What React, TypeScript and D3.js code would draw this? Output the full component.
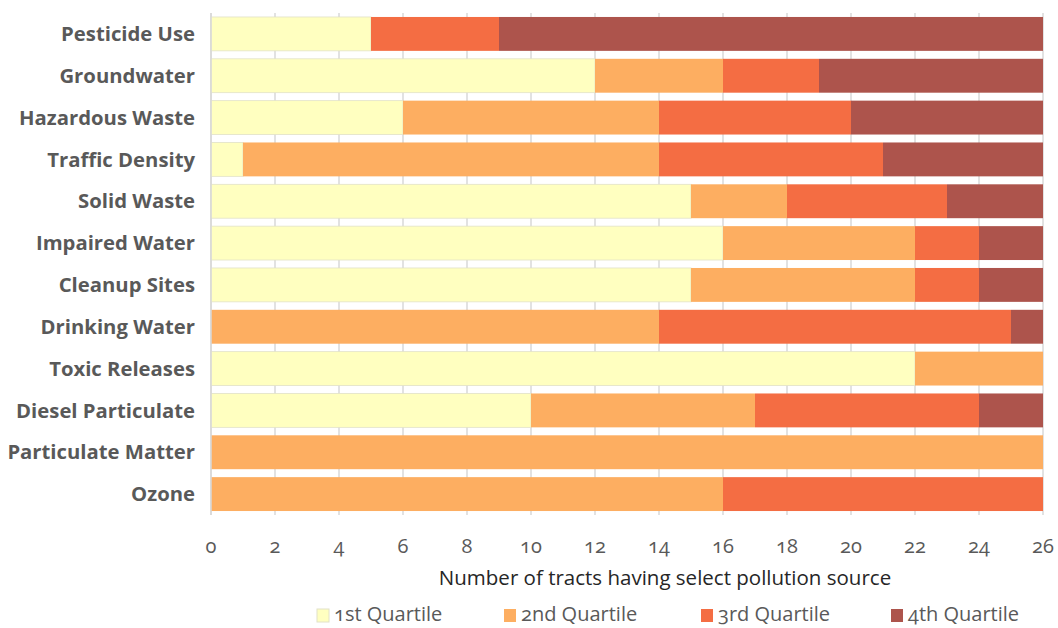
import React from "react";
import * as d3 from "d3";

const categories = [
  "Pesticide Use", "Groundwater", "Hazardous Waste", "Traffic Density", "Solid Waste",
  "Impaired Water", "Cleanup Sites", "Drinking Water", "Toxic Releases",
  "Diesel Particulate", "Particulate Matter", "Ozone",
];
const q1 = [5, 12, 6, 1, 15, 16, 15, 0, 22, 10, 0, 0];
const q2 = [0, 4, 8, 13, 3, 6, 7, 14, 4, 7, 26, 16];
const q3 = [4, 3, 6, 7, 5, 2, 2, 11, 0, 7, 0, 10];
const q4 = [17, 7, 6, 5, 3, 2, 2, 1, 0, 2, 0, 0];
const seriesNames = ["1st Quartile", "2nd Quartile", "3rd Quartile", "4th Quartile"];
const colors = ["#FFFFC0", "#FDAE61", "#F46D43", "#AD544C"];
const xTicks = d3.range(0, 27, 2);
const axisTitle = "Number of tracts having select pollution source";

export default function App() {
  const W = 1058, H = 628;
  const left = 211, right = 1043, top = 13, bottom = 515;
  const x = d3.scaleLinear().domain([0, 26]).range([left, right]);
  const y = d3.scaleBand().domain(categories).range([top, bottom]).paddingInner(0.19).paddingOuter(0.095);
  const rows = categories.map((c, i) => ({ c, q1: q1[i], q2: q2[i], q3: q3[i], q4: q4[i] }));
  const stack = d3.stack<any>().keys(["q1", "q2", "q3", "q4"])(rows);
  const legendX = [317, 504, 701, 891];
  const font = "'Open Sans', 'Noto Sans', sans-serif";
  return (
    <svg width={W} height={H} style={{ position: "absolute", left: 0, top: 0, background: "#fff" }}>
      {xTicks.map((t) => (
        <line key={"g" + t} x1={x(t)} x2={x(t)} y1={top} y2={bottom} stroke="#d9d9d9" strokeWidth={1.5} />
      ))}
      {stack.map((s, si) =>
        s.map((d, i) =>
          d[1] - d[0] > 0 ? (
            <rect
              key={si + "-" + i}
              x={x(d[0])}
              y={y(categories[i])}
              width={x(d[1]) - x(d[0])}
              height={y.bandwidth()}
              fill={colors[si]}
              stroke={si === 0 ? "#e2e2c8" : "none"}
              strokeWidth={0.8}
            />
          ) : null
        )
      )}
      <line x1={left} x2={left} y1={top} y2={bottom} stroke="#d9d9d9" strokeWidth={1.5} />
      {categories.map((c) => (
        <text key={c} x={195} y={(y(c) as number) + y.bandwidth() / 2} dy="0.35em" textAnchor="end"
          fontFamily={font} fontWeight={700} fontSize={20.3} fill="#595959">{c}</text>
      ))}
      {xTicks.map((t) => (
        <text key={"t" + t} x={x(t)} y={553} textAnchor="middle" fontFamily={font} fontSize={20}
          fill="#595959" style={{ fontVariantNumeric: "oldstyle-nums" }}>{t}</text>
      ))}
      <text x={665} y={585} textAnchor="middle" fontFamily={font} fontSize={20.5} fill="#262626">{axisTitle}</text>
      {seriesNames.map((n, i) => (
        <g key={n}>
          <rect x={legendX[i]} y={609} width={12} height={13} fill={colors[i]} stroke={i === 0 ? "#e2e2c8" : "none"} />
          <text x={legendX[i] + 17} y={621} fontFamily={font} fontSize={20} fill="#595959"
            style={{ fontVariantNumeric: "oldstyle-nums" }}>{n}</text>
        </g>
      ))}
    </svg>
  );
}
